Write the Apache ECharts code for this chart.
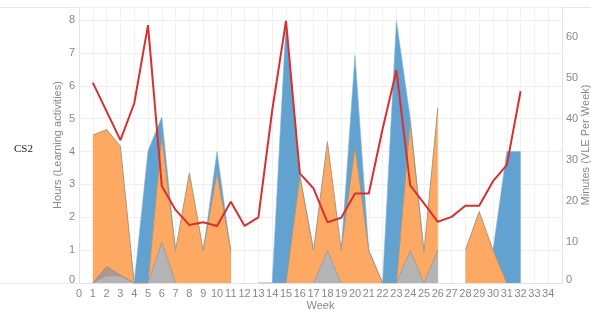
<!DOCTYPE html>
<html>
<head>
<meta charset="utf-8">
<script src="https://cdn.jsdelivr.net/npm/echarts@6/dist/echarts.min.js"></script>
<style>
html, body { margin: 0; padding: 0; background: #fff; }
#main { width: 591px; height: 314px; }
</style>
</head>
<body>
<div id="main"></div>
<script>
// week index 0..34, null = no value that week
var weeks = [];
for (var w = 0; w <= 34; w++) { weeks.push(w); }

var blueHours = [null, null, null, null, 0, 4.02, 5.05, 0.9, null, 0.95, 4.0, 0.95, null, null, 0, 7.92, 3.3, 0.95, null, 0.95,
	6.93, 0.95, 0, 7.98, 5.02, 0.9, null, null, null, null, 1.0, 4.0, 4.0, null, null];
var orangeHours = [null, 4.5, 4.67, 4.16, 0, 0, 4.45, 1.0, 3.35, 1.0, 3.35, 1.0, null, null, null, 0, 3.25, 1.0, 4.3, 1.0,
	4.15, 1.0, 0, 0, 4.9, 0.95, 5.33, null, 1.0, 2.17, 1.0, 0, null, null, null];
var brownHours = [null, 0, 0.5, 0.24, 0, null, null, null, null, null, null, null, null, null, null, null, null, null, null, null,
	null, null, null, null, null, null, null, null, null, null, null, null, null, null, null];
var greyHours = [null, 0, 0.22, 0.22, 0, 0, 1.24, 0, null, null, null, null, null, 0, 0, null, null, 0, 0.98, 0,
	null, null, null, 0, 0.98, 0, 1.0, null, null, null, null, null, null, null, null];
var vleMinutes = [null, 48.8, 41.8, 34.8, 43.7, 62.8, 23.6, 17.8, 14.1, 14.8, 13.9, 19.8, 13.9, 16.0, 42.0, 63.8, 26.7, 23.0, 14.8, 15.9,
	21.8, 21.8, 37.5, 51.8, 23.8, 19.4, 14.9, 16.1, 18.8, 18.8, 24.8, 28.7, 46.7, null, null];

var font = 'Liberation Sans, Arial, sans-serif';

/**
 * pair weeks with values, '-' for gaps
 */
function toPairs(vals) {
	var out = [];
	for (var i = 0; i < weeks.length; i++) {
		out.push([weeks[i], vals[i] == null ? '-' : vals[i]]);
	}
	return out;
}

function zeroLabel(v) {
	if (v === 0) {
		return '{z|0}';
	}
	return v;
}

function areaSeries(name, vals, fill, edge, edgeWidth) {
	return {
		name: name,
		type: 'line',
		data: toPairs(vals),
		symbol: 'none',
		connectNulls: false,
		lineStyle: { color: edge, width: edgeWidth },
		areaStyle: { color: fill, opacity: 1 },
		itemStyle: { color: fill },
		silent: true
	};
}

var option = {
	animation: false,
	grid: { left: 79, right: 29, top: 7, bottom: 31, outerBoundsMode: 'none', containLabel: false },
	xAxis: {
		type: 'value',
		min: 0,
		max: 35,
		interval: 1,
		name: 'Week',
		nameLocation: 'middle',
		nameGap: 17,
		nameMoveOverlap: false,
		nameTextStyle: { color: '#888', fontSize: 11, fontFamily: font },
		axisLine: { show: true, lineStyle: { color: '#e3e3e3' } },
		axisTick: { show: false },
		axisLabel: {
			color: '#888', fontSize: 11, fontFamily: font, margin: 5,
			formatter: function(v) { return v > 34 ? '' : v; }
		},
		splitLine: { show: true, lineStyle: { color: '#f1f1f1' } }
	},
	yAxis: [{
		type: 'value',
		min: 0,
		max: 8.4,
		interval: 1,
		name: 'Hours (Learning activities)',
		nameLocation: 'middle',
		nameGap: 16,
		nameMoveOverlap: false,
		nameTextStyle: { color: '#888', fontSize: 11, fontFamily: font },
		axisLine: { show: true, lineStyle: { color: '#e3e3e3' } },
		axisTick: { show: false },
		axisLabel: {
			color: '#888', fontSize: 11, fontFamily: font, margin: 4, showMaxLabel: false,
			formatter: zeroLabel,
			rich: { z: { color: '#888', fontSize: 11, fontFamily: font, padding: [0, 0, 7, 0] } }
		},
		splitLine: { show: true, lineStyle: { color: '#eeeeee' } }
	}, {
		type: 'value',
		min: 0,
		max: 67.2,
		interval: 10,
		name: 'Minutes (VLE Per Week)',
		nameLocation: 'middle',
		nameGap: 18,
		nameMoveOverlap: false,
		nameTextStyle: { color: '#888', fontSize: 11, fontFamily: font },
		axisLine: { show: true, lineStyle: { color: '#e3e3e3' } },
		axisTick: { show: false },
		axisLabel: {
			color: '#888', fontSize: 11, fontFamily: font, margin: 4, showMaxLabel: false,
			formatter: zeroLabel,
			rich: { z: { color: '#888', fontSize: 11, fontFamily: font, padding: [0, 0, 7, 0] } }
		},
		splitLine: { show: false }
	}],
	graphic: [
		{ type: 'line', shape: { x1: 0, y1: 7.5, x2: 591, y2: 7.5 }, style: { stroke: '#e6e6e6', lineWidth: 1 }, silent: true },
		{ type: 'line', shape: { x1: 0, y1: 283.5, x2: 79, y2: 283.5 }, style: { stroke: '#ececec', lineWidth: 1 }, silent: true },
		{ type: 'text', left: 14, top: 144, style: { text: 'CS2', fill: '#222', font: '11px "Liberation Serif", serif' } }
	],
	series: [
		areaSeries('Blue', blueHours, '#62a2d0', '#82b4d9', 0.6),
		areaSeries('Orange', orangeHours, '#fda963', '#a8977f', 1),
		areaSeries('Brown', brownHours, '#b3968c', '#a08a80', 0.8),
		areaSeries('Grey', greyHours, '#b4b4b4', '#999999', 0.8),
		{
			name: 'VLE',
			type: 'line',
			yAxisIndex: 1,
			data: toPairs(vleMinutes),
			symbol: 'none',
			connectNulls: false,
			lineStyle: { color: '#d63030', width: 2 },
			itemStyle: { color: '#d63030' },
			silent: true
		}
	]
};

var myChart = echarts.init(document.getElementById('main'));
myChart.setOption(option);
</script>
</body>
</html>
